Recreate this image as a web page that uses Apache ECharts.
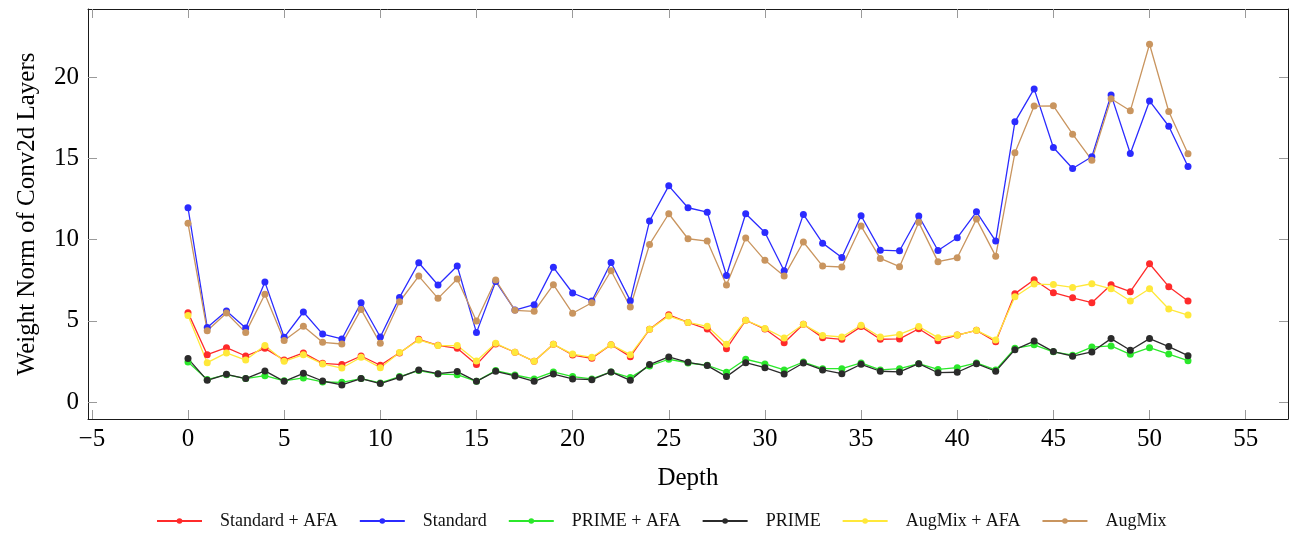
<!DOCTYPE html>
<html>
<head>
<meta charset="utf-8">
<script src="https://cdn.jsdelivr.net/npm/echarts@6/dist/echarts.min.js"></script>
<style>
html,body{margin:0;padding:0;background:#fff;}
#chart{width:1296px;height:533px;}
</style>
</head>
<body>
<div id="chart"></div>
<script>
const depth = [0,1,2,3,4,5,6,7,8,9,10,11,12,13,14,15,16,17,18,19,20,21,22,23,24,25,26,27,28,29,30,31,32,33,34,35,36,37,38,39,40,41,42,43,44,45,46,47,48,49,50,51,52];

const standardAFA = [5.50,2.91,3.34,2.83,3.30,2.58,3.02,2.38,2.30,2.83,2.26,3.02,3.86,3.49,3.30,2.30,3.57,3.06,2.50,3.55,2.89,2.69,3.53,2.79,4.47,5.37,4.90,4.49,3.28,5.03,4.49,3.65,4.78,3.96,3.86,4.64,3.86,3.88,4.51,3.77,4.12,4.41,3.71,6.67,7.53,6.73,6.41,6.11,7.22,6.79,8.51,7.10,6.22];
const standard = [11.96,4.59,5.60,4.55,7.38,3.98,5.54,4.18,3.88,6.11,4.00,6.44,8.57,7.20,8.37,4.27,7.42,5.66,5.99,8.29,6.71,6.22,8.59,6.24,11.14,13.31,11.96,11.69,7.79,11.59,10.44,8.08,11.55,9.78,8.90,11.47,9.35,9.31,11.45,9.33,10.11,11.71,9.91,17.25,19.28,15.67,14.38,15.10,18.91,15.30,18.54,16.98,14.50];
const primeAFA = [2.46,1.38,1.68,1.44,1.62,1.30,1.48,1.23,1.21,1.44,1.17,1.56,1.93,1.72,1.68,1.27,1.93,1.66,1.42,1.85,1.56,1.42,1.85,1.50,2.22,2.63,2.40,2.26,1.83,2.63,2.34,1.97,2.46,2.05,2.05,2.40,1.97,2.05,2.36,2.00,2.11,2.40,1.97,3.30,3.52,3.09,2.88,3.38,3.45,2.93,3.34,2.95,2.54];
const prime = [2.67,1.33,1.70,1.44,1.91,1.27,1.76,1.29,1.05,1.44,1.13,1.52,1.97,1.74,1.87,1.27,1.89,1.60,1.27,1.72,1.42,1.37,1.85,1.33,2.30,2.77,2.44,2.24,1.56,2.42,2.11,1.72,2.40,1.97,1.74,2.32,1.89,1.85,2.36,1.80,1.83,2.36,1.89,3.22,3.75,3.10,2.82,3.08,3.90,3.18,3.90,3.41,2.85];
const augmixAFA = [5.33,2.42,3.02,2.58,3.47,2.50,2.91,2.34,2.09,2.75,2.11,3.04,3.82,3.47,3.47,2.52,3.61,3.06,2.50,3.55,2.95,2.75,3.53,2.91,4.47,5.29,4.90,4.66,3.55,5.03,4.53,3.94,4.78,4.10,4.00,4.72,4.00,4.16,4.64,3.96,4.12,4.41,3.82,6.48,7.26,7.23,7.05,7.28,6.97,6.22,6.97,5.72,5.35];
const augmix = [11.00,4.39,5.48,4.27,6.63,3.79,4.66,3.67,3.57,5.70,3.61,6.17,7.75,6.38,7.57,4.98,7.51,5.64,5.58,7.22,5.46,6.11,8.08,5.85,9.70,11.59,10.05,9.91,7.20,10.09,8.72,7.75,9.85,8.37,8.31,10.83,8.84,8.33,11.06,8.64,8.88,11.26,8.98,15.34,18.22,18.24,16.49,14.89,18.67,17.93,22.03,17.89,15.28];

const seriesNames = ['Standard + AFA','Standard','PRIME + AFA','PRIME','AugMix + AFA','AugMix'];
const seriesValues = [standardAFA, standard, primeAFA, prime, augmixAFA, augmix];
const seriesColors = ['#ff2b2b','#2b2bff','#2be82b','#2b2b2b','#ffe83a','#c9955f'];

const xTicks = [-5,0,5,10,15,20,25,30,35,40,45,50,55];
const yTicks = [0,5,10,15,20];

const FONT = "'Liberation Serif','Times New Roman',serif";
const fmt = v => String(v).replace('-', '\u2212');

const chart = echarts.init(document.getElementById('chart'), null, {renderer:'canvas'});

const frameLine = {show:true, onZero:false, lineStyle:{color:'#1a1a1a', width:1}};
const tickStyle = {show:true, inside:true, length:9, lineStyle:{color:'#9a9a9a', width:1}};

const option = {
  animation:false,
  backgroundColor:'#ffffff',
  grid:{left:88, right:8, top:9, bottom:114, containLabel:false},
  legend:{
    left:151, top:507,
    itemWidth:45, itemHeight:7, itemGap:21,
    textStyle:{fontFamily:FONT, fontSize:18, color:'#111', padding:[0,0,0,13]},
    data:seriesNames
  },
  xAxis:[{
    type:'value', position:'bottom', min:-5.2, max:57.2,
    name:'Depth', nameLocation:'middle', nameGap:47,
    nameTextStyle:{fontFamily:FONT, fontSize:25, color:'#000'},
    axisLine:frameLine,
    axisTick:Object.assign({customValues:xTicks}, tickStyle),
    axisLabel:{customValues:xTicks, formatter:fmt, margin:8, fontFamily:FONT, fontSize:25, color:'#000'},
    splitLine:{show:false}
  },{
    type:'value', position:'top', min:-5.2, max:57.2,
    axisLine:frameLine,
    axisTick:Object.assign({customValues:xTicks}, tickStyle),
    axisLabel:{show:false},
    splitLine:{show:false}
  }],
  yAxis:[{
    type:'value', position:'left', min:-1.05, max:24.2,
    name:'Weight Norm of Conv2d Layers', nameLocation:'middle', nameGap:48,
    nameTextStyle:{fontFamily:FONT, fontSize:25, color:'#000'},
    axisLine:frameLine,
    axisTick:Object.assign({customValues:yTicks}, tickStyle),
    axisLabel:{customValues:yTicks, formatter:fmt, margin:9, fontFamily:FONT, fontSize:25, color:'#000'},
    splitLine:{show:false}
  },{
    type:'value', position:'right', min:-1.05, max:24.2,
    axisLine:frameLine,
    axisTick:Object.assign({customValues:yTicks}, tickStyle),
    axisLabel:{show:false},
    splitLine:{show:false}
  }],
  series: seriesNames.map((name, i) => ({
    name:name,
    type:'line',
    xAxisIndex:0, yAxisIndex:0,
    data: depth.map((d, j) => [d, seriesValues[i][j]]),
    symbol:'circle', symbolSize:7,
    lineStyle:{color:seriesColors[i], width:1.3},
    itemStyle:{color:seriesColors[i]},
    emphasis:{disabled:true}
  }))
};
chart.setOption(option);
</script>
</body>
</html>
